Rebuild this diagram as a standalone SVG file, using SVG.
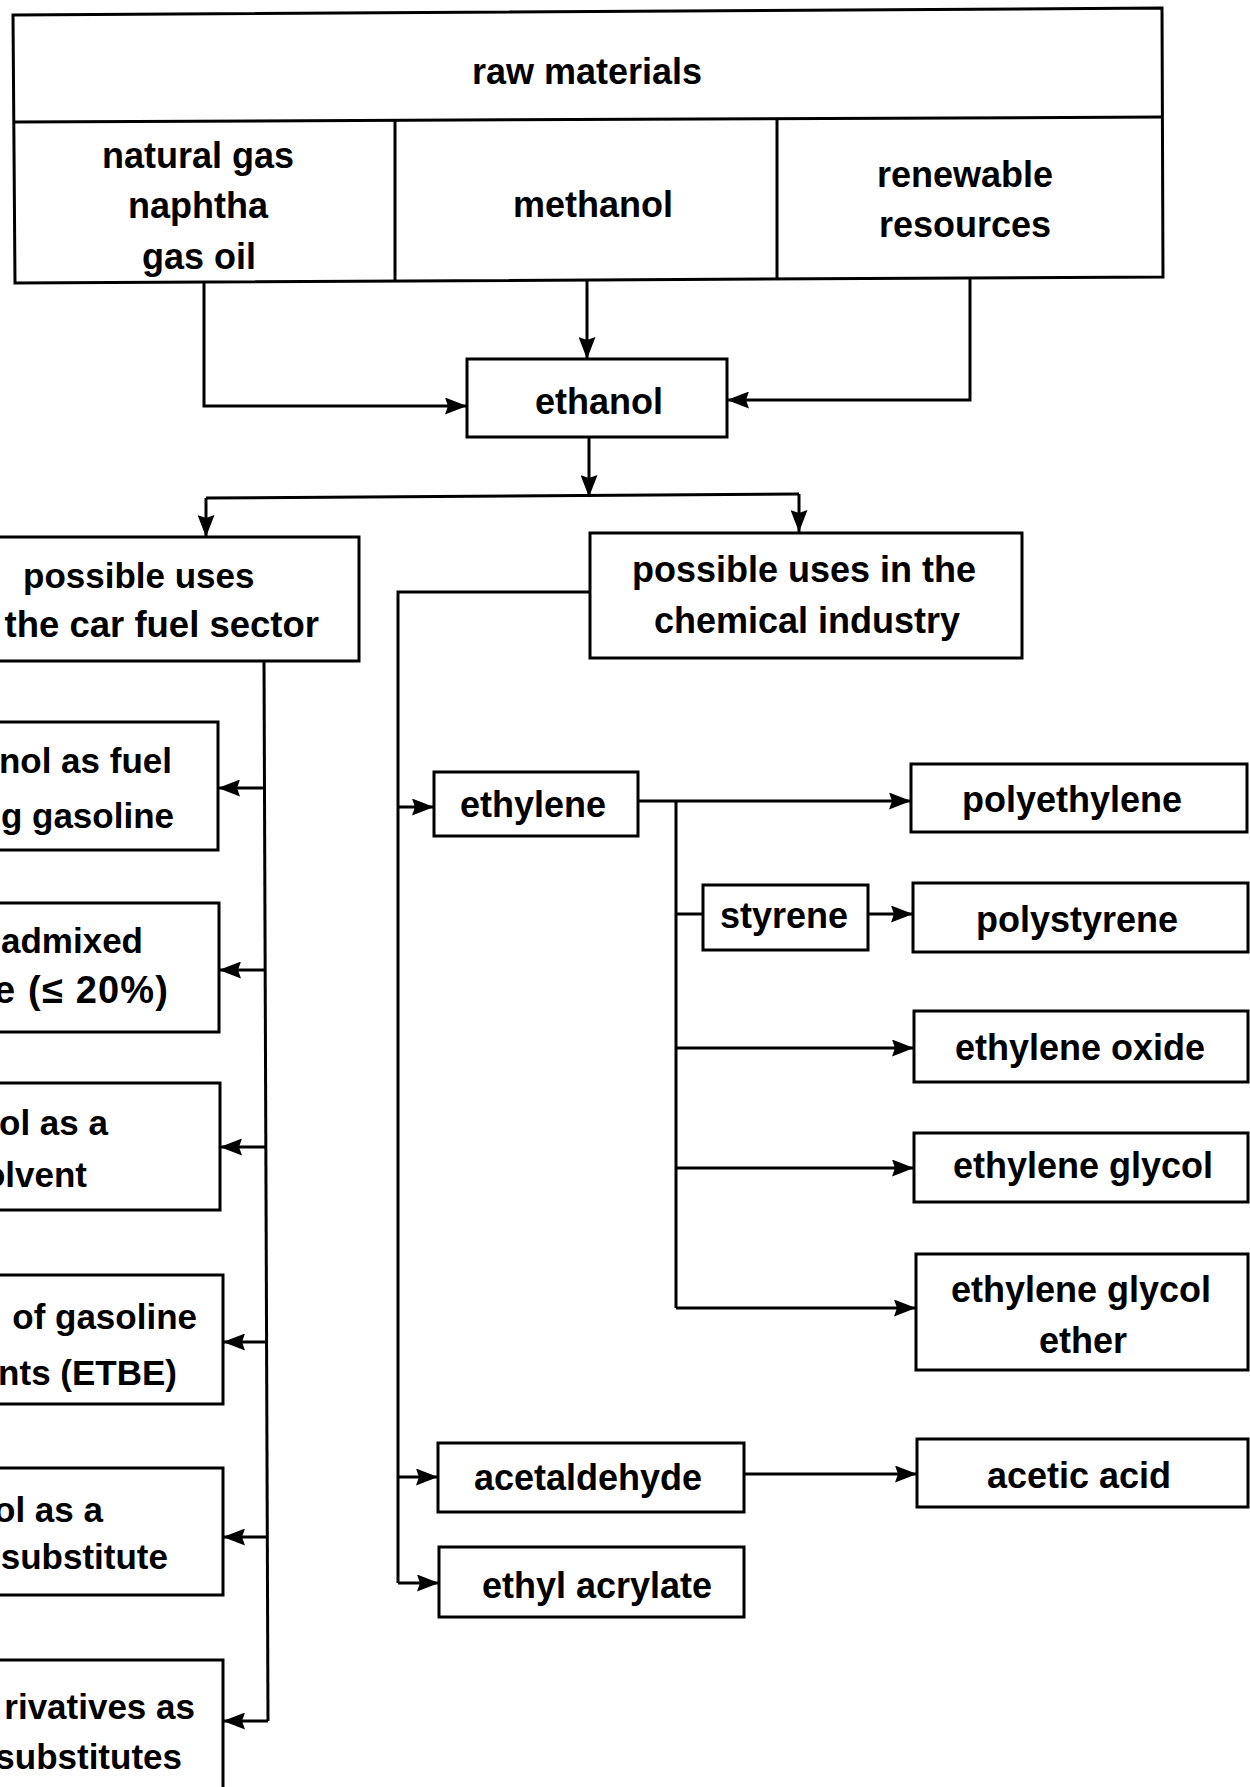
<svg xmlns="http://www.w3.org/2000/svg" width="1250" height="1787" viewBox="0 0 1250 1787">
<style>
.bx{fill:#fff;stroke:#000;stroke-width:3}
.ln{fill:none;stroke:#000;stroke-width:3}
.c{stroke:#000;stroke-width:3;fill:none;marker-end:url(#ah)}
text{font-family:"Liberation Sans",Arial,sans-serif;font-weight:bold;font-size:36px;fill:#000}
.m{text-anchor:middle}
.e{text-anchor:end;font-size:35px}
.s{text-anchor:start;font-size:35px}
</style>
<defs>
<marker id="ah" markerUnits="userSpaceOnUse" markerWidth="22" markerHeight="17" viewBox="0 0 22 17" refX="22" refY="8.5" orient="auto">
<path d="M0,0 L22,8.5 L0,17 L3,8.5 Z" fill="#000"/>
</marker>
</defs>
<rect x="0" y="0" width="1250" height="1787" fill="#fff"/>

<g id="connectors">
<path class="c" d="M204,283 V406 H467"/>
<path class="c" d="M587,280 V359"/>
<path class="c" d="M970,278 V400 H727"/>
<path class="c" d="M589,437 V497"/>
<path class="ln" d="M206,498 L799,494"/>
<path class="c" d="M206,498 V537"/>
<path class="c" d="M799,494 V532"/>
<path class="ln" d="M264,661 L268,1721"/>
<path class="c" d="M265,788 H218"/>
<path class="c" d="M266,970 H219"/>
<path class="c" d="M266,1147 H220"/>
<path class="c" d="M267,1342 H223"/>
<path class="c" d="M268,1537 H223"/>
<path class="c" d="M268,1721 H223"/>
<path class="ln" d="M590,592 H398 V1583"/>
<path class="c" d="M398,1583 H439"/>
<path class="c" d="M398,807 H434"/>
<path class="c" d="M398,1477 H438"/>
<path class="c" d="M638,801 H911"/>
<path class="ln" d="M676,801 V1308"/>
<path class="c" d="M676,1308 H916"/>
<path class="ln" d="M676,914 H703"/>
<path class="c" d="M868,914 H913"/>
<path class="c" d="M676,1048 H914"/>
<path class="c" d="M676,1168 H914"/>
<path class="c" d="M744,1474 H917"/>
</g>

<g id="raw-materials">
<path class="bx" d="M13,15 L1162,8 L1163,277 L15,283 Z"/>
<path class="ln" d="M14,122 L1162,117"/>
<path class="ln" d="M395,121 V282"/>
<path class="ln" d="M777,119 V279"/>
<text class="m" x="587" y="84">raw materials</text>
</g>
<g id="fossil">
<text class="m" x="198" y="168">natural gas</text>
<text class="m" x="198" y="218">naphtha</text>
<text class="m" x="199" y="269">gas oil</text>
</g>
<g id="methanol">
<text class="m" x="593" y="217">methanol</text>
</g>
<g id="renewable">
<text class="m" x="965" y="187">renewable</text>
<text class="m" x="965" y="237">resources</text>
</g>

<g id="ethanol">
<rect class="bx" x="467" y="359" width="260" height="78"/>
<text class="m" x="599" y="414">ethanol</text>
</g>

<g id="fuel-sector">
<rect class="bx" x="-10" y="537" width="369" height="124"/>
<text class="s" x="23" y="588">possible uses</text>
<text class="e" x="319" y="637" style="font-size:36.5px">the car fuel sector</text>
</g>
<g id="chem-industry">
<rect class="bx" x="590" y="533" width="432" height="125"/>
<text class="m" x="804" y="582">possible uses in the</text>
<text class="m" x="807" y="633">chemical industry</text>
</g>

<g id="fuel1">
<rect class="bx" x="-10" y="722" width="228" height="128"/>
<text class="e" x="172" y="773">nol as fuel</text>
<text class="e" x="174" y="828">g gasoline</text>
</g>
<g id="fuel2">
<rect class="bx" x="-10" y="903" width="229" height="129"/>
<text class="e" x="143" y="953">admixed</text>
<text class="s" x="-6" y="1003" style="font-size:38px" textLength="174" lengthAdjust="spacing">e (≤ 20%)</text>
</g>
<g id="fuel3">
<rect class="bx" x="-10" y="1083" width="230" height="127"/>
<text class="e" x="108" y="1135">ol as a</text>
<text class="e" x="87" y="1187">olvent</text>
</g>
<g id="fuel4">
<rect class="bx" x="-10" y="1275" width="233" height="129"/>
<text class="e" x="197" y="1329">of gasoline</text>
<text class="e" x="177" y="1385">nts (ETBE)</text>
</g>
<g id="fuel5">
<rect class="bx" x="-10" y="1468" width="233" height="127"/>
<text class="e" x="103" y="1522">ol as a</text>
<text class="e" x="168" y="1569">substitute</text>
</g>
<g id="fuel6">
<rect class="bx" x="-10" y="1660" width="233" height="160"/>
<text class="e" x="195" y="1719">rivatives as</text>
<text class="e" x="182" y="1769">substitutes</text>
</g>

<g id="ethylene">
<rect class="bx" x="434" y="772" width="204" height="64"/>
<text class="m" x="533" y="817">ethylene</text>
</g>
<g id="polyethylene">
<rect class="bx" x="911" y="764" width="336" height="68"/>
<text class="m" x="1072" y="812">polyethylene</text>
</g>
<g id="styrene">
<rect class="bx" x="703" y="885" width="165" height="65"/>
<text class="m" x="784" y="928">styrene</text>
</g>
<g id="polystyrene">
<rect class="bx" x="913" y="883" width="335" height="69"/>
<text class="m" x="1077" y="932">polystyrene</text>
</g>
<g id="ethylene-oxide">
<rect class="bx" x="914" y="1011" width="334" height="71"/>
<text class="m" x="1080" y="1060">ethylene oxide</text>
</g>
<g id="ethylene-glycol">
<rect class="bx" x="914" y="1133" width="334" height="69"/>
<text class="m" x="1083" y="1178">ethylene glycol</text>
</g>
<g id="ethylene-glycol-ether">
<rect class="bx" x="916" y="1254" width="332" height="116"/>
<text class="m" x="1081" y="1302">ethylene glycol</text>
<text class="m" x="1083" y="1353">ether</text>
</g>
<g id="acetaldehyde">
<rect class="bx" x="438" y="1443" width="306" height="69"/>
<text class="m" x="588" y="1490">acetaldehyde</text>
</g>
<g id="acetic-acid">
<rect class="bx" x="917" y="1439" width="331" height="68"/>
<text class="m" x="1079" y="1488">acetic acid</text>
</g>
<g id="ethyl-acrylate">
<rect class="bx" x="439" y="1547" width="305" height="70"/>
<text class="m" x="597" y="1598">ethyl acrylate</text>
</g>
</svg>
